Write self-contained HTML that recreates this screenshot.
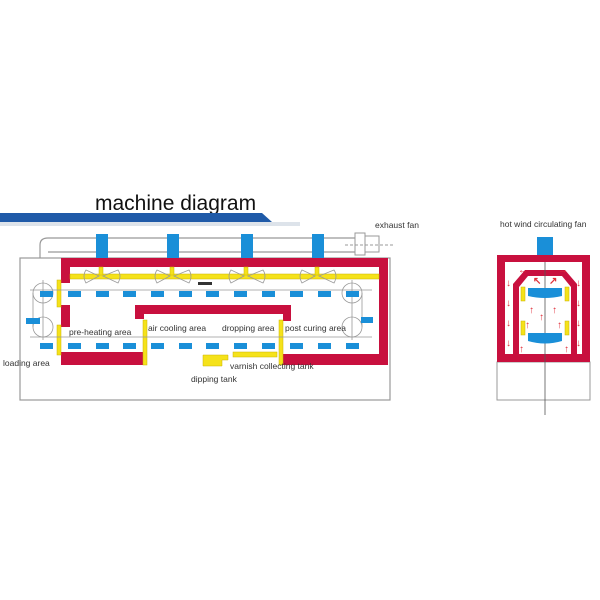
<!DOCTYPE html>
<html><head><meta charset="utf-8"><style>
body{margin:0;background:#fff;width:600px;height:600px;overflow:hidden}
svg{display:block}
text{font-family:"Liberation Sans",sans-serif;fill:#333}
</style></head><body>
<svg width="600" height="600" viewBox="0 0 600 600" xmlns="http://www.w3.org/2000/svg">
<text x="95" y="210" font-size="21" fill="#111" style="fill:#111">machine diagram</text>
<polygon points="0,213 262,213 272,222 0,222" fill="#1f5aa8"/>
<rect x="0" y="222" width="300" height="4" fill="#dde3ea"/>
<rect x="20" y="258" width="370" height="142" fill="none" stroke="#999" stroke-width="1.2"/>
<path d="M40,258 L40,245 Q40,238 48,238 L355,238 M48,252 L355,252" fill="none" stroke="#999" stroke-width="1.2"/>
<rect x="355" y="233" width="10" height="22" fill="#fff" stroke="#999"/>
<rect x="365" y="236" width="14" height="16" fill="#fff" stroke="#999"/>
<line x1="345" y1="245" x2="395" y2="245" stroke="#999" stroke-dasharray="3,2"/>
<text x="375" y="228" font-size="8.5">exhaust fan</text>
<g fill="#1a8fd8">
<rect x="96" y="234" width="12" height="25"/><rect x="167" y="234" width="12" height="25"/><rect x="241" y="234" width="12" height="25"/><rect x="312" y="234" width="12" height="25"/>
</g>
<g fill="#c8103e">
<rect x="61" y="258" width="327" height="9"/>
<rect x="61" y="258" width="9" height="25"/>
<rect x="61" y="305" width="9" height="22"/>
<rect x="61" y="352" width="84" height="13"/>
<rect x="379" y="258" width="9" height="107"/>
<rect x="283" y="354" width="105" height="11"/>
<rect x="135" y="305" width="156" height="9"/>
<rect x="135" y="305" width="9" height="14"/>
<rect x="283" y="305" width="8" height="16"/>
</g>
<g fill="#f5e21a" stroke="#c9b400" stroke-width="0.5">
<rect x="70" y="274" width="309" height="5"/>
<rect x="57" y="280" width="4" height="27"/>
<rect x="57" y="325" width="4" height="30"/>
<rect x="143" y="320" width="4" height="45"/>
<rect x="279" y="320" width="4" height="45"/>
<rect x="99" y="267" width="4" height="8"/><rect x="170" y="267" width="4" height="8"/><rect x="244" y="267" width="4" height="8"/><rect x="315" y="267" width="4" height="8"/>
<path d="M203,355 L228,355 L228,360 L222,360 L222,366 L203,366 Z"/>
<rect x="233" y="352" width="44" height="5"/>
</g>
<g fill="none" stroke="#999" stroke-width="0.8">
<path d="M86,270 L99,276 L86,283 Q82,276 86,270 Z M118,270 L103,276 L118,283 Q122,276 118,270 Z"/>
<path d="M157,270 L170,276 L157,283 Q153,276 157,270 Z M189,270 L174,276 L189,283 Q193,276 189,270 Z"/>
<path d="M231,270 L244,276 L231,283 Q227,276 231,270 Z M263,270 L248,276 L263,283 Q267,276 263,270 Z"/>
<path d="M302,270 L315,276 L302,283 Q298,276 302,270 Z M334,270 L319,276 L334,283 Q338,276 334,270 Z"/>
</g>
<rect x="198" y="282" width="14" height="3" fill="#333"/>
<g stroke="#999" stroke-width="0.8" fill="none">
<line x1="30" y1="290" x2="372" y2="290"/>
<line x1="30" y1="337" x2="372" y2="337"/>
<circle cx="43" cy="293" r="10"/><circle cx="43" cy="327" r="10"/>
<circle cx="352" cy="293" r="10"/><circle cx="352" cy="327" r="10"/>
<line x1="33" y1="293" x2="33" y2="327"/><line x1="362" y1="293" x2="362" y2="327"/>
<line x1="43" y1="280" x2="43" y2="340"/><line x1="352" y1="280" x2="352" y2="340"/>
</g>
<g fill="#1a8fd8">
<rect x="40" y="291" width="13" height="6"/><rect x="68" y="291" width="13" height="6"/><rect x="96" y="291" width="13" height="6"/><rect x="123" y="291" width="13" height="6"/><rect x="151" y="291" width="13" height="6"/><rect x="179" y="291" width="13" height="6"/><rect x="206" y="291" width="13" height="6"/><rect x="234" y="291" width="13" height="6"/><rect x="262" y="291" width="13" height="6"/><rect x="290" y="291" width="13" height="6"/><rect x="318" y="291" width="13" height="6"/><rect x="346" y="291" width="13" height="6"/>
<rect x="40" y="343" width="13" height="6"/><rect x="68" y="343" width="13" height="6"/><rect x="96" y="343" width="13" height="6"/><rect x="123" y="343" width="13" height="6"/><rect x="151" y="343" width="13" height="6"/><rect x="179" y="343" width="13" height="6"/><rect x="206" y="343" width="13" height="6"/><rect x="234" y="343" width="13" height="6"/><rect x="262" y="343" width="13" height="6"/><rect x="290" y="343" width="13" height="6"/><rect x="318" y="343" width="13" height="6"/><rect x="346" y="343" width="13" height="6"/>
<rect x="26" y="318" width="14" height="6"/><rect x="361" y="317" width="12" height="6"/>
</g>
<g font-size="8.5">
<text x="69" y="335">pre-heating area</text>
<text x="148" y="331">air cooling area</text>
<text x="222" y="331">dropping area</text>
<text x="285" y="331">post curing area</text>
<text x="3" y="366">loading area</text>
<text x="230" y="369">varnish collecting tank</text>
<text x="191" y="382">dipping tank</text>
<text x="500" y="227">hot wind circulating fan</text>
</g>
<rect x="537" y="237" width="16" height="19" fill="#1a8fd8"/>
<rect x="497" y="362" width="93" height="38" fill="none" stroke="#999"/>
<path d="M497,255 H590 V362 H497 Z M505,262 V354 H582 V262 Z" fill="#c8103e" fill-rule="evenodd"/>
<path d="M513,354 V284 L525,270 H565 L577,284 V354 H571 V287 L562,276 H528 L519,287 V354 Z" fill="#c8103e"/>
<line x1="545" y1="262" x2="545" y2="415" stroke="#555" stroke-width="0.8"/>
<path d="M528,288 H562 V296 Q545,300 528,296 Z" fill="#1a8fd8"/>
<path d="M528,333 H562 V341 Q545,346 528,341 Z" fill="#1a8fd8"/>
<g fill="#f5e21a" stroke="#c9b400" stroke-width="0.5">
<rect x="521" y="287" width="4" height="14"/><rect x="565" y="287" width="4" height="14"/>
<rect x="521" y="321" width="4" height="14"/><rect x="565" y="321" width="4" height="14"/>
</g>
<g font-size="10" font-weight="bold">
<text x="518" y="273" style="fill:#e0303a">←</text><text x="558" y="273" style="fill:#e0303a">→</text>
<text x="506" y="286" style="fill:#e0303a">↓</text><text x="506" y="306" style="fill:#e0303a">↓</text><text x="506" y="326" style="fill:#e0303a">↓</text><text x="506" y="346" style="fill:#e0303a">↓</text>
<text x="576" y="286" style="fill:#e0303a">↓</text><text x="576" y="306" style="fill:#e0303a">↓</text><text x="576" y="326" style="fill:#e0303a">↓</text><text x="576" y="346" style="fill:#e0303a">↓</text>
<text x="529" y="313" style="fill:#e0303a">↑</text><text x="539" y="320" style="fill:#e0303a">↑</text><text x="552" y="313" style="fill:#e0303a">↑</text><text x="525" y="328" style="fill:#e0303a">↑</text><text x="557" y="328" style="fill:#e0303a">↑</text>
<text x="519" y="352" style="fill:#e0303a">↑</text><text x="564" y="352" style="fill:#e0303a">↑</text><text x="533" y="284" style="fill:#e0303a">↖</text><text x="549" y="284" style="fill:#e0303a">↗</text>
</g>
</svg>
</body></html>
